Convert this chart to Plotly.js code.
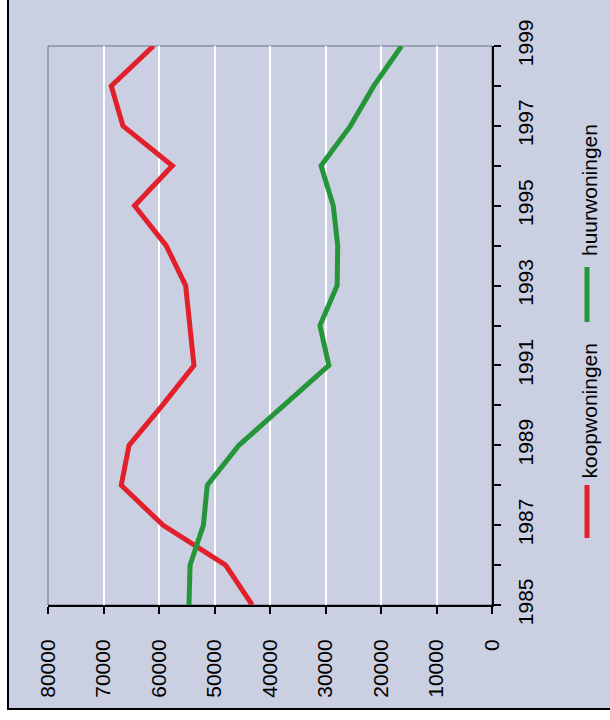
<!DOCTYPE html>
<html>
<head>
<meta charset="utf-8">
<script src="https://cdn.plot.ly/plotly-3.0.1.min.js"></script>
<style>html,body{margin:0;padding:0;background:#fff;}#chart{width:610px;height:720px;}</style>
</head>
<body>
<div id="chart"></div>
<script>
const years = [1985,1986,1987,1988,1989,1990,1991,1992,1993,1994,1995,1996,1997,1998,1999];
const koopwoningen = [43200,48000,59300,66800,65400,59400,53700,54400,55200,58700,64400,57600,66500,68600,61000];
const huurwoningen = [54600,54400,52000,51300,45600,37500,29400,31000,27900,27800,28600,30800,25500,21300,16300];
const seriesNames = ["koopwoningen","huurwoningen"];
const seriesColors = ["#e2202b","#25953a"];
const valueTicks = [0,10000,20000,30000,40000,50000,60000,70000,80000];

// pixel geometry of the plot area
const W = 610, H = 720;
const L = 48, R = 492, T = 46, B = 605;
const px = x => (x - L) / (R - L);
const py = y => (B - y) / (B - T);

const font = {family: "Liberation Sans, Arial, sans-serif", size: 21, color: "#000"};

const traces = [
  {x: koopwoningen, y: years, name: seriesNames[0], type: "scatter", mode: "lines",
   line: {color: seriesColors[0], width: 5}},
  {x: huurwoningen, y: years, name: seriesNames[1], type: "scatter", mode: "lines",
   line: {color: seriesColors[1], width: 5}}
];

const legendItems = [
  {name: seriesNames[0], color: seriesColors[0], seg: [485, 538], text: [345, 478]},
  {name: seriesNames[1], color: seriesColors[1], seg: [267, 322], text: [118, 262]}
];

const shapes = [
  {type: "rect", xref: "paper", yref: "paper", layer: "below",
   x0: px(8), x1: px(620), y0: py(709), y1: py(-10),
   fillcolor: "#cacfe1", line: {color: "#000", width: 2}},
  {type: "rect", xref: "paper", yref: "paper", layer: "below",
   x0: 0, x1: 1, y0: 0, y1: 1,
   fillcolor: "rgba(0,0,0,0)", line: {color: "#6c718a", width: 1}}
];
const annotations = [];
legendItems.forEach(it => {
  shapes.push({type: "line", xref: "paper", yref: "paper",
    x0: px(587), x1: px(587), y0: py(it.seg[0]), y1: py(it.seg[1]),
    line: {color: it.color, width: 5}});
  annotations.push({xref: "paper", yref: "paper", x: px(589), y: py((it.text[0] + it.text[1]) / 2),
    text: it.name, showarrow: false, textangle: -90, font: font,
    xanchor: "center", yanchor: "middle"});
});

const layout = {
  width: W, height: H,
  margin: {l: L, r: W - R, t: T, b: H - B, pad: 0},
  paper_bgcolor: "#ffffff",
  plot_bgcolor: "rgba(0,0,0,0)",
  showlegend: false,
  font: font,
  xaxis: {
    range: [80000, 0], tickvals: valueTicks, ticktext: valueTicks.map(String),
    tickangle: -90, ticks: "outside", ticklen: 7, tickwidth: 2, tickcolor: "#000",
    showline: true, linecolor: "#000", linewidth: 2, mirror: false,
    showgrid: true, gridcolor: "#ffffff", gridwidth: 2, zeroline: false,
    ticklabelstandoff: 17, tickfont: font, fixedrange: true
  },
  yaxis: {
    range: [1985, 1999], side: "right", tick0: 1985, dtick: 2,
    tickangle: -90, ticks: "outside", ticklen: 7, tickwidth: 2, tickcolor: "#000",
    minor: {dtick: 1, ticks: "outside", ticklen: 7, tickwidth: 2, tickcolor: "#000", showgrid: false},
    showline: true, linecolor: "#000", linewidth: 2,
    showgrid: false, zeroline: false, ticklabelstandoff: 7, tickfont: font, fixedrange: true
  },
  shapes: shapes,
  annotations: annotations
};

Plotly.newPlot("chart", traces, layout, {staticPlot: true, displayModeBar: false});
</script>
</body>
</html>
